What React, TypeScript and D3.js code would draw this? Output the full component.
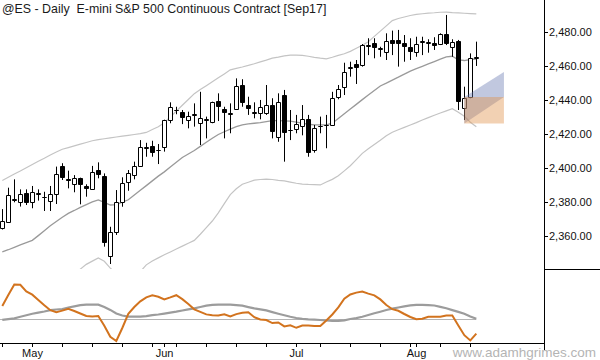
import React from "react";
import * as d3 from "d3";

// ---- Categories (trading days) ----
const dates = [
  "2017-04-24","2017-04-25","2017-04-26","2017-04-27","2017-04-28",
  "2017-05-01","2017-05-02","2017-05-03","2017-05-04","2017-05-05",
  "2017-05-08","2017-05-09","2017-05-10","2017-05-11","2017-05-12",
  "2017-05-15","2017-05-16","2017-05-17","2017-05-18","2017-05-19",
  "2017-05-22","2017-05-23","2017-05-24","2017-05-25","2017-05-26",
  "2017-05-30","2017-05-31","2017-06-01","2017-06-02",
  "2017-06-05","2017-06-06","2017-06-07","2017-06-08","2017-06-09",
  "2017-06-12","2017-06-13","2017-06-14","2017-06-15","2017-06-16",
  "2017-06-19","2017-06-20","2017-06-21","2017-06-22","2017-06-23",
  "2017-06-26","2017-06-27","2017-06-28","2017-06-29","2017-06-30",
  "2017-07-03","2017-07-05","2017-07-06","2017-07-07",
  "2017-07-10","2017-07-11","2017-07-12","2017-07-13","2017-07-14",
  "2017-07-17","2017-07-18","2017-07-19","2017-07-20","2017-07-21",
  "2017-07-24","2017-07-25","2017-07-26","2017-07-27","2017-07-28",
  "2017-07-31","2017-08-01","2017-08-02","2017-08-03","2017-08-04",
  "2017-08-07","2017-08-08","2017-08-09","2017-08-10","2017-08-11",
  "2017-08-14","2017-08-15",
];

// ---- OHLC ----
const open = [
  2364.7, 2368.6, 2381.5, 2380.4, 2385.3, 2380.4, 2385.0, 2383.0, 2381.0, 2384.7,
  2401.4, 2394.0, 2390.6, 2394.1, 2389.8, 2387.8, 2399.0, 2395.5, 2348.4, 2362.7,
  2380.4, 2392.1, 2396.1, 2401.5, 2412.2, 2413.1, 2410.6, 2412.4, 2428.4, 2434.1,
  2433.3, 2428.4, 2431.6, 2426.5, 2428.6, 2427.4, 2439.6, 2434.7, 2432.2, 2434.7,
  2449.0, 2437.2, 2432.8, 2432.4, 2432.7, 2437.2, 2418.2, 2443.1, 2422.3, 2422.9,
  2424.9, 2428.8, 2410.8, 2424.7, 2425.3, 2425.5, 2442.1, 2448.0, 2459.0, 2461.2,
  2460.8, 2472.0, 2473.5, 2470.2, 2468.2, 2475.5, 2475.5, 2473.5, 2471.2, 2468.6,
  2474.3, 2474.0, 2473.5, 2472.9, 2478.8, 2471.5, 2475.1, 2435.3, 2442.1, 2465.0,
];
const high = [
  2376.0, 2388.6, 2393.5, 2387.6, 2387.6, 2389.6, 2387.6, 2386.2, 2389.6, 2401.0,
  2403.0, 2398.6, 2396.0, 2394.5, 2390.6, 2401.4, 2403.5, 2397.0, 2365.6, 2387.2,
  2394.7, 2399.0, 2403.9, 2416.6, 2415.0, 2416.2, 2414.3, 2428.6, 2438.8, 2436.2,
  2434.3, 2433.3, 2438.2, 2445.0, 2430.4, 2439.2, 2444.1, 2436.2, 2438.2, 2452.9,
  2452.4, 2442.1, 2438.8, 2440.2, 2449.0, 2441.2, 2444.1, 2446.1, 2434.3, 2431.4,
  2437.2, 2431.4, 2425.5, 2430.4, 2431.4, 2445.0, 2449.0, 2462.1, 2462.7, 2463.7,
  2473.1, 2476.5, 2476.5, 2471.5, 2479.4, 2481.0, 2481.4, 2478.4, 2476.5, 2477.4,
  2477.4, 2475.9, 2477.1, 2479.4, 2490.2, 2475.9, 2475.5, 2448.0, 2467.6, 2474.5,
];
const low = [
  2364.0, 2368.0, 2380.0, 2377.5, 2378.4, 2376.5, 2381.0, 2374.9, 2374.9, 2379.0,
  2393.1, 2388.2, 2385.9, 2378.8, 2383.3, 2387.5, 2394.1, 2353.9, 2343.7, 2360.8,
  2377.4, 2386.8, 2393.5, 2401.2, 2406.8, 2406.8, 2402.5, 2409.8, 2426.5, 2431.8,
  2426.0, 2423.5, 2424.5, 2413.7, 2417.6, 2426.5, 2427.8, 2417.6, 2420.6, 2434.3,
  2436.2, 2431.4, 2429.4, 2428.8, 2431.4, 2417.6, 2415.6, 2403.9, 2416.6, 2420.6,
  2419.4, 2406.8, 2409.2, 2420.6, 2411.8, 2425.3, 2440.6, 2443.1, 2453.9, 2449.6,
  2459.8, 2466.6, 2464.7, 2465.6, 2463.7, 2466.6, 2459.8, 2462.7, 2463.7, 2465.6,
  2466.6, 2468.0, 2469.6, 2472.5, 2472.5, 2465.6, 2434.3, 2428.4, 2441.2, 2460.2,
];
const close = [
  2369.0, 2384.3, 2382.0, 2384.9, 2380.0, 2385.9, 2385.5, 2383.3, 2384.7, 2396.6,
  2394.7, 2393.0, 2394.1, 2390.6, 2388.2, 2397.6, 2396.5, 2356.8, 2362.4, 2380.4,
  2391.5, 2397.1, 2401.4, 2412.4, 2412.6, 2409.8, 2411.0, 2428.4, 2436.2, 2434.5,
  2430.0, 2430.8, 2432.0, 2429.4, 2429.0, 2438.8, 2436.8, 2433.3, 2432.6, 2448.4,
  2439.2, 2435.3, 2433.2, 2435.9, 2437.2, 2422.1, 2439.2, 2421.5, 2422.7, 2425.9,
  2428.8, 2409.8, 2423.5, 2425.1, 2425.7, 2441.2, 2446.5, 2456.8, 2459.4, 2459.4,
  2472.5, 2472.8, 2471.2, 2470.8, 2474.9, 2473.9, 2473.5, 2471.9, 2469.2, 2473.1,
  2474.7, 2474.2, 2472.5, 2478.8, 2473.9, 2474.5, 2439.8, 2441.2, 2464.7, 2465.6,
];

// ---- Bands ----
const upperBand = [
  2392.8, 2394.7, 2396.6, 2398.4, 2400.3, 2402.2, 2404.1, 2405.9, 2407.8, 2409.6,
  2411.2, 2412.2, 2413.2, 2414.2, 2415.2, 2416.2, 2416.9, 2417.4, 2417.9, 2418.4,
  2418.9, 2419.4, 2419.9, 2420.4, 2421.1, 2422.8, 2424.4, 2426.8, 2430.2, 2433.6,
  2437.1, 2440.5, 2443.9, 2446.3, 2448.6, 2450.9, 2453.2, 2455.5, 2457.9, 2458.8,
  2459.6, 2460.5, 2461.5, 2462.6, 2463.6, 2464.8, 2465.4, 2466.1, 2466.6, 2466.6,
  2466.4, 2465.9, 2465.3, 2464.8, 2464.4, 2465.3, 2466.4, 2467.4, 2468.8, 2470.6,
  2472.4, 2474.5, 2477.6, 2480.7, 2483.8, 2486.9, 2488.1, 2489.0, 2489.9, 2490.5,
  2490.9, 2491.3, 2491.5, 2491.8, 2491.9, 2491.6, 2491.4, 2491.2, 2491.0, 2490.8,
];
const midLine = [
  2350.8, 2352.1, 2353.5, 2354.9, 2356.3, 2357.6, 2360.4, 2363.3, 2366.2, 2368.7,
  2371.2, 2373.5, 2375.2, 2377.0, 2378.6, 2380.2, 2381.4, 2379.9, 2378.4, 2378.6,
  2380.1, 2381.5, 2384.3, 2387.1, 2389.8, 2392.6, 2395.4, 2397.9, 2400.8, 2403.6,
  2406.4, 2408.4, 2410.5, 2412.9, 2415.3, 2417.7, 2419.9, 2421.5, 2423.0, 2424.5,
  2425.6, 2426.1, 2426.5, 2426.9, 2427.5, 2428.1, 2428.0, 2427.9, 2427.8, 2427.2,
  2426.6, 2425.9, 2425.5, 2425.5, 2425.5, 2426.5, 2429.3, 2432.1, 2434.9, 2437.6,
  2440.4, 2443.1, 2445.8, 2448.4, 2450.1, 2451.9, 2453.6, 2455.4, 2457.2, 2458.6,
  2460.0, 2461.4, 2462.8, 2464.2, 2465.6, 2465.9, 2463.8, 2463.4, 2464.0, 2464.3,
];
const lowerBand = [
  2305.9, 2308.5, 2311.2, 2313.8, 2316.5, 2319.1, 2321.8, 2324.4, 2326.9, 2329.6,
  2332.2, 2334.8, 2337.6, 2340.7, 2343.5, 2345.4, 2347.3, 2345.3, 2341.3, 2338.2,
  2335.4, 2335.4, 2337.2, 2339.2, 2343.2, 2345.5, 2347.3, 2349.1, 2350.8, 2352.5,
  2354.2, 2355.9, 2357.6, 2361.2, 2365.1, 2369.0, 2373.8, 2379.2, 2384.5, 2388.0,
  2390.6, 2391.8, 2393.0, 2393.4, 2393.6, 2393.4, 2392.9, 2392.6, 2391.9, 2391.2,
  2390.7, 2390.5, 2390.4, 2390.2, 2391.9, 2393.5, 2395.6, 2398.5, 2401.5, 2405.1,
  2408.8, 2411.5, 2414.0, 2416.5, 2419.2, 2421.2, 2422.7, 2424.1, 2425.5, 2426.9,
  2428.4, 2429.8, 2431.2, 2432.5, 2433.8, 2435.1, 2433.0, 2430.6, 2427.1, 2424.5,
];

// ---- Lower-pane oscillator ----
const oscFast = [
  13.5, 24.4, 34.9, 34.6, 27.9, 24.7, 19.5, 14.2, 9.2, 7.2,
  8.8, 10.5, 8.4, 5.9, 3.4, 3.0, 3.4, -6.3, -17.4, -21.6,
  -8.6, 5.5, 12.4, 18.1, 22.1, 24.0, 22.6, 20.0, 22.0, 24.2,
  20.3, 15.5, 10.1, 7.5, 5.0, 4.2, 3.9, 5.1, 2.9, 5.3,
  6.6, 7.1, 2.2, -0.1, -0.7, -3.7, -3.1, -7.0, -5.9, -8.4,
  -6.2, -6.0, -6.6, -6.6, -1.1, 4.9, 12.0, 20.6, 24.9, 26.8,
  27.9, 25.8, 24.1, 20.0, 14.4, 10.2, 8.6, 5.4, 2.4, 0.1,
  0.6, 2.6, 2.7, 2.7, 4.0, 3.9, -6.0, -15.8, -21.0, -14.2,
];
const oscSlow = [
  -0.5, 0.3, 1.1, 2.6, 4.1, 5.7, 6.8, 7.9, 9.3, 9.9,
  10.3, 11.9, 13.1, 14.3, 14.8, 14.8, 14.8, 12.5, 9.5, 5.9,
  3.9, 2.7, 2.7, 2.7, 3.3, 4.2, 4.9, 5.8, 6.8, 7.7,
  8.9, 10.0, 11.1, 12.4, 13.7, 14.5, 14.8, 14.8, 14.7, 14.2,
  13.7, 12.3, 11.0, 10.0, 9.0, 7.3, 5.7, 4.1, 2.6, 1.4,
  0.5, 0.0, -0.3, -0.6, -1.1, -1.6, -1.5, -0.9, 0.4, 1.3,
  2.7, 4.4, 6.1, 7.7, 9.4, 10.8, 11.9, 13.1, 14.1, 14.6,
  14.6, 14.3, 13.9, 12.5, 11.1, 9.3, 7.5, 5.7, 2.9, 0.6,
];

// ---- Axis ticks and projection ----
const priceTicks = [2360, 2380, 2400, 2420, 2440, 2460, 2480];
const projIndex = [77, 83.6];
const projLevels = [2456.6, 2441.9, 2426.4]; // top, mid, bottom

const title = "@ES - Daily  E-mini S&P 500 Continuous Contract [Sep17]";
const watermark = "www.adamhgrimes.com";

const FONT = "'Liberation Sans', Arial, sans-serif";

export default function App() {
  const x = d3.scaleLinear().domain([0, 90.33]).range([2.3, 544.3]);
  const y = d3.scaleLinear().domain([2360, 2480]).range([236.3, 32.3]);
  const yo = d3.scaleLinear().domain([-25, 40]).range([344.4, 279.4]);
  const px = (i: number) => Math.round(x(i)) + 0.5;
  const py = (v: number) => Math.round(y(v)) + 0.5;

  const parse = d3.timeParse("%Y-%m-%d");
  const dd = dates.map((s) => parse(s) as Date);
  const weekTicks = dd
    .map((d, i) => (i === 0 || d.getDay() < dd[i - 1].getDay() ? i : -1))
    .filter((i) => i >= 0);
  const monthTicks = dd
    .map((d, i) => (i > 0 && d.getMonth() !== dd[i - 1].getMonth() ? i : -1))
    .filter((i) => i >= 0);
  const fmtMonth = d3.timeFormat("%b");
  const fmtPrice = d3.format(",.2f");

  const bandLine = (arr: number[]) =>
    d3
      .line<number>()
      .x((_, i) => x(i))
      .y((v) => y(v))(arr) as string;
  const oscLine = (arr: number[]) =>
    d3
      .line<number>()
      .x((_, i) => x(i))
      .y((v) => yo(v))(arr) as string;

  const x0 = x(projIndex[0]);
  const x1 = x(projIndex[1]);
  const yTop = y(projLevels[0]);
  const yMid = y(projLevels[1]);
  const yBot = y(projLevels[2]);

  return (
    <svg
      width={600}
      height={360}
      style={{ position: "absolute", left: 0, top: 0, background: "#fff" }}
      fontFamily={FONT}
    >
      <defs>
        <clipPath id="pricePane">
          <rect x={0} y={0} width={544} height={269} />
        </clipPath>
      </defs>
      <rect x={0} y={0} width={600} height={360} fill="#fff" />

      <g clipPath="url(#pricePane)">
        <path d={bandLine(upperBand)} fill="none" stroke="#c4c4c4" strokeWidth={1.2} />
        <path d={bandLine(lowerBand)} fill="none" stroke="#c4c4c4" strokeWidth={1.2} />
        <path d={bandLine(midLine)} fill="none" stroke="#9a9a9a" strokeWidth={1.3} />

        {dates.map((_, i) => {
          const cx = px(i);
          const o = open[i];
          const c = close[i];
          const top = py(Math.max(o, c));
          const bot = py(Math.min(o, c));
          const up = c >= o;
          return (
            <g key={i}>
              <line x1={cx} x2={cx} y1={y(high[i])} y2={y(low[i])} stroke="#000" strokeWidth={1} />
              <path
                d={`M${cx - 2},${top}H${cx + 2}V${bot}H${cx - 2}Z`}
                fill={up ? "#fff" : "#000"}
                stroke="#000"
                strokeWidth={1}
              />
            </g>
          );
        })}

        {/* projection shading */}
        <polygon
          points={`${x0},${yMid} ${x1},${yTop} ${x1},${yMid} ${x0},${yBot}`}
          fill="rgb(100,118,175)"
          fillOpacity={0.4}
        />
        <polygon
          points={`${x0},${yMid} ${x1},${yMid} ${x1},${yBot} ${x0},${yBot}`}
          fill="rgb(225,145,75)"
          fillOpacity={0.42}
        />
      </g>

      {/* Title */}
      <text x={2} y={13} fontSize={12.4} fill="#1a1a1a" style={{ whiteSpace: "pre" }}>
        {title}
      </text>

      {/* Right price axis */}
      <line x1={544.5} x2={544.5} y1={0} y2={350} stroke="#000" />
      <line x1={544.5} x2={600} y1={269.5} y2={269.5} stroke="#000" />
      {priceTicks.map((t) => (
        <g key={t}>
          <line x1={544.5} x2={548} y1={py(t)} y2={py(t)} stroke="#000" />
          <text x={549} y={py(t)} dy="0.35em" fontSize={11} fill="#111">
            {fmtPrice(t)}
          </text>
        </g>
      ))}

      {/* Lower pane */}
      <line
        x1={0}
        x2={x(dates.length - 1)}
        y1={Math.round(yo(0)) + 0.5}
        y2={Math.round(yo(0)) + 0.5}
        stroke="#b4b4b4"
        strokeWidth={1}
      />
      <path d={oscLine(oscSlow)} fill="none" stroke="#9c9c9c" strokeWidth={2.2} />
      <path d={oscLine(oscFast)} fill="none" stroke="#d2731e" strokeWidth={2} />

      {/* Bottom time axis */}
      <line x1={0} x2={544.5} y1={343.5} y2={343.5} stroke="#000" />
      {Array.from(new Set([...weekTicks, ...monthTicks])).map((i) => (
        <line key={i} x1={px(i)} x2={px(i)} y1={343.5} y2={347} stroke="#000" />
      ))}
      {monthTicks.map((i) => (
        <text key={i} x={px(i)} y={357} textAnchor="middle" fontSize={11} fill="#111">
          {fmtMonth(dd[i])}
        </text>
      ))}

      {/* Watermark */}
      <text x={596} y={357} textAnchor="end" fontSize={13.5} fill="#b4b4b4">
        {watermark}
      </text>
    </svg>
  );
}
